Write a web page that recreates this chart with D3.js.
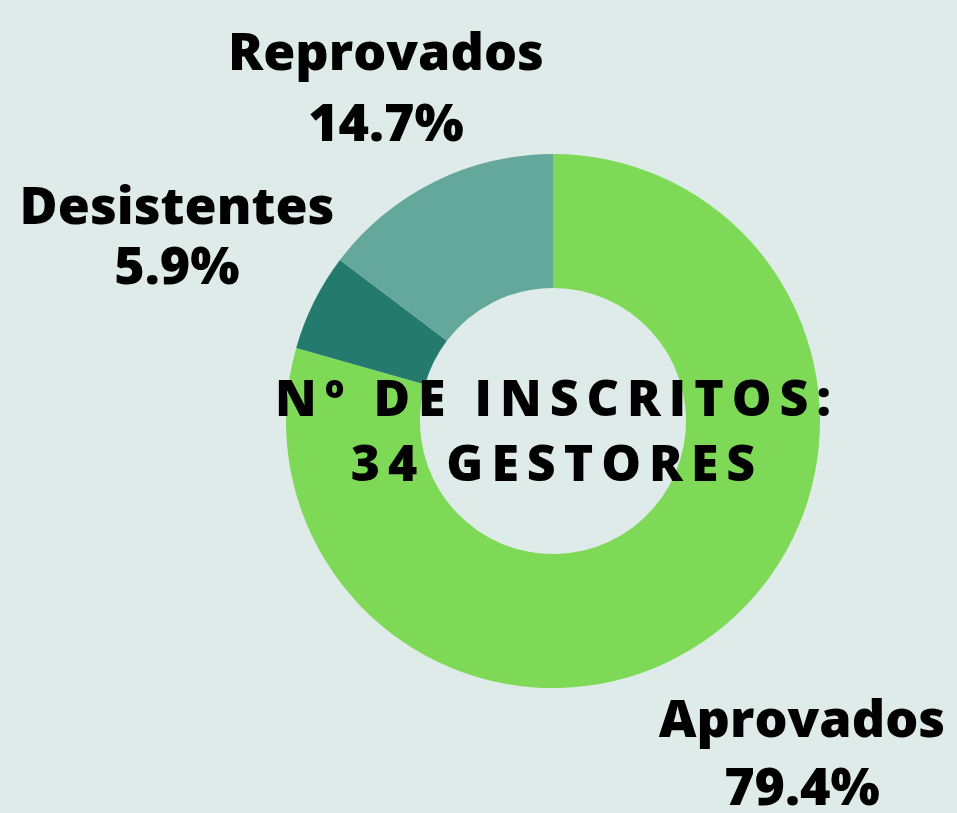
<!DOCTYPE html>
<html>
<head>
<meta charset="utf-8">
<script src="https://cdn.jsdelivr.net/npm/d3@7"></script>
<style>
  html, body { margin: 0; padding: 0; background: #dfebe8; }
  text { font-family: "Open Sans", sans-serif; font-weight: 800; fill: #000; }
</style>
</head>
<body>
<svg id="chart" width="957" height="813"></svg>
<script>
// ─── Data ─────────────────────────────────────────────────────────────────────
const categories = ["Aprovados", "Desistentes", "Reprovados"];
const counts = [27, 2, 5];
const colors = ["#7ed957", "#237a6d", "#63a89a"];
const centerLines = ["Nº DE INSCRITOS:", "34 GESTORES"];

// label anchor (name line baseline) per category
const labelPos = {
    Aprovados:   { x: 802, y: 737, gap: 68 },
    Desistentes: { x: 177, y: 224, gap: 60 },
    Reprovados:  { x: 386, y: 70,  gap: 71 }
};

const W = 957, H = 813;
const cx = 553, cy = 421;
const outerR = 267, innerR = 133;

const svg = d3.select("#chart");
svg.append("rect").attr("width", W).attr("height", H).attr("fill", "#dfebe8");

const total = d3.sum(counts);
const data = categories.map((c, i) => ({ name: c, value: counts[i], color: colors[i] }));

const pie = d3.pie().value(d => d.value).sort(null);
const arc = d3.arc().innerRadius(innerR).outerRadius(outerR);

const g = svg.append("g").attr("transform", `translate(${cx},${cy})`);
g.selectAll("path")
    .data(pie(data))
    .join("path")
    .attr("d", arc)
    .attr("fill", d => d.data.color);

// labels
const labels = svg.append("g");
data.forEach(d => {
    const p = labelPos[d.name];
    const pct = (d.value / total * 100).toFixed(1) + "%";
    labels.append("text")
        .attr("x", p.x).attr("y", p.y)
        .attr("text-anchor", "middle")
        .attr("font-size", 52)
        .text(d.name);
    labels.append("text")
        .attr("x", p.x).attr("y", p.y + p.gap)
        .attr("text-anchor", "middle")
        .attr("font-size", 52)
        .text(pct);
});

// center title, widely spaced
const spacing = 8;
centerLines.forEach((line, i) => {
    svg.append("text")
        .attr("x", cx + spacing / 2)
        .attr("y", 416 + i * 65)
        .attr("text-anchor", "middle")
        .attr("font-size", 50)
        .style("letter-spacing", spacing + "px")
        .text(line);
});
</script>
</body>
</html>
